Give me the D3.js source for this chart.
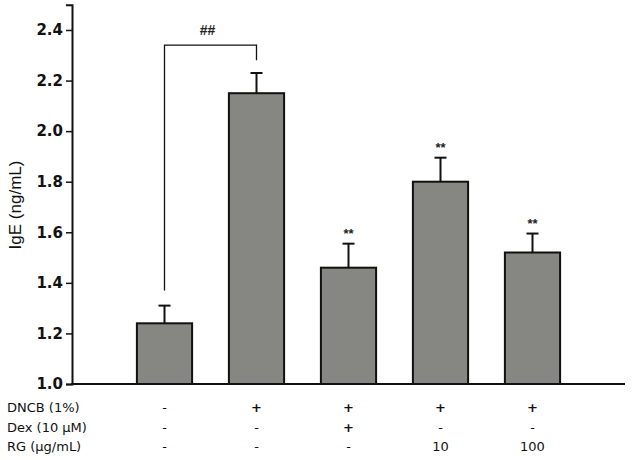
<!DOCTYPE html>
<meta charset="utf-8">
<style>
  body { margin: 0; background: #fff; }
  .tick text { font: bold 15px "DejaVu Sans", sans-serif; fill: #111; }
  .cond { font: 13px "DejaVu Sans", sans-serif; fill: #111; }
</style>
<svg width="632" height="460"></svg>
<script src="https://d3js.org/d3.v7.min.js"></script>
<script>
// data
var groups = ["g1", "g2", "g3", "g4", "g5"];
var means = [1.24, 2.15, 1.46, 1.80, 1.52];
var errs = [0.07, 0.08, 0.095, 0.095, 0.075];
var stars = ["", "", "**", "**", "**"];
var yTicks = [1.0, 1.2, 1.4, 1.6, 1.8, 2.0, 2.2, 2.4];
var rowLabels = ["DNCB (1%)", "Dex (10 \u03bcM)", "RG (\u03bcg/mL)"];
var dncb = ["-", "+", "+", "+", "+"];
var dex = ["-", "-", "+", "-", "-"];
var rg = ["-", "-", "-", "10", "100"];

var svg = d3.select("svg");
var axisX = 72, axisRight = 625, baseY = 384;

var y = d3.scaleLinear().domain([1.0, 2.5]).range([baseY, 4.7]);
var x = d3.scaleBand().domain(groups).range([118.5, 578.5])
    .paddingInner(0.4).paddingOuter(0.2);

// y axis
var yAxis = svg.append("g")
    .attr("transform", "translate(" + axisX + ",0)")
    .call(d3.axisLeft(y).tickValues(yTicks).tickFormat(d3.format(".1f")).tickSize(6).tickPadding(3));
yAxis.select(".domain").attr("stroke", "#111").attr("stroke-width", 2);
yAxis.selectAll(".tick line").attr("stroke", "#111").attr("stroke-width", 1.5);

// x baseline
svg.append("line")
    .attr("x1", axisX - 1).attr("x2", axisRight)
    .attr("y1", baseY).attr("y2", baseY)
    .attr("stroke", "#111").attr("stroke-width", 2);

// error bars
var bw = x.bandwidth();
groups.forEach(function (g, i) {
    var cx = x(g) + bw / 2;
    svg.append("line")
        .attr("x1", cx).attr("x2", cx)
        .attr("y1", y(means[i])).attr("y2", y(means[i] + errs[i]))
        .attr("stroke", "#111").attr("stroke-width", 2);
    svg.append("line")
        .attr("x1", cx - 6).attr("x2", cx + 6)
        .attr("y1", y(means[i] + errs[i])).attr("y2", y(means[i] + errs[i]))
        .attr("stroke", "#111").attr("stroke-width", 2);
    if (stars[i]) {
        svg.append("text")
            .attr("x", cx).attr("y", y(means[i] + errs[i]) - 6)
            .attr("text-anchor", "middle")
            .style("font", "bold 13px 'Liberation Sans', Arial, sans-serif")
            .attr("fill", "#222")
            .text(stars[i]);
    }
});

// bars
svg.selectAll("rect.bar")
    .data(means)
    .enter()
    .append("rect")
    .attr("class", "bar")
    .attr("x", function (d, i) { return x(groups[i]); })
    .attr("y", function (d) { return y(d); })
    .attr("width", bw)
    .attr("height", function (d) { return baseY - y(d); })
    .attr("fill", "#868682")
    .attr("stroke", "#111")
    .attr("stroke-width", 2);

// significance bracket between group 1 and 2
var c1 = x("g1") + bw / 2, c2 = x("g2") + bw / 2;
var topY = y(2.34);
svg.append("path")
    .attr("d", "M" + c1 + "," + y(means[0] + errs[0] + 0.06) +
        "V" + topY + "H" + c2 + "V" + y(means[1] + errs[1] + 0.05))
    .attr("fill", "none").attr("stroke", "#111").attr("stroke-width", 1.3);
svg.append("text")
    .attr("x", (c1 + c2) / 2 - 3).attr("y", topY - 10)
    .attr("text-anchor", "middle")
    .style("font", "bold 14px 'Liberation Sans', Arial, sans-serif")
    .attr("fill", "#222")
    .text("##");

// y label
svg.append("text")
    .attr("transform", "translate(21,205) rotate(-90)")
    .attr("text-anchor", "middle")
    .style("font", "17px 'Liberation Sans', Arial, sans-serif")
    .attr("fill", "#111")
    .text("IgE (ng/mL)");

// condition table
var rows = [dncb, dex, rg];
var rowY = [412, 432, 451];
rows.forEach(function (r, j) {
    svg.append("text").attr("class", "cond")
        .attr("x", 7).attr("y", rowY[j])
        .text(rowLabels[j]);
    r.forEach(function (v, i) {
        svg.append("text").attr("class", "cond")
            .attr("x", x(groups[i]) + bw / 2).attr("y", rowY[j])
            .attr("text-anchor", "middle")
            .style("font-weight", v === "+" ? "bold" : "normal")
            .text(v);
    });
});
</script>
